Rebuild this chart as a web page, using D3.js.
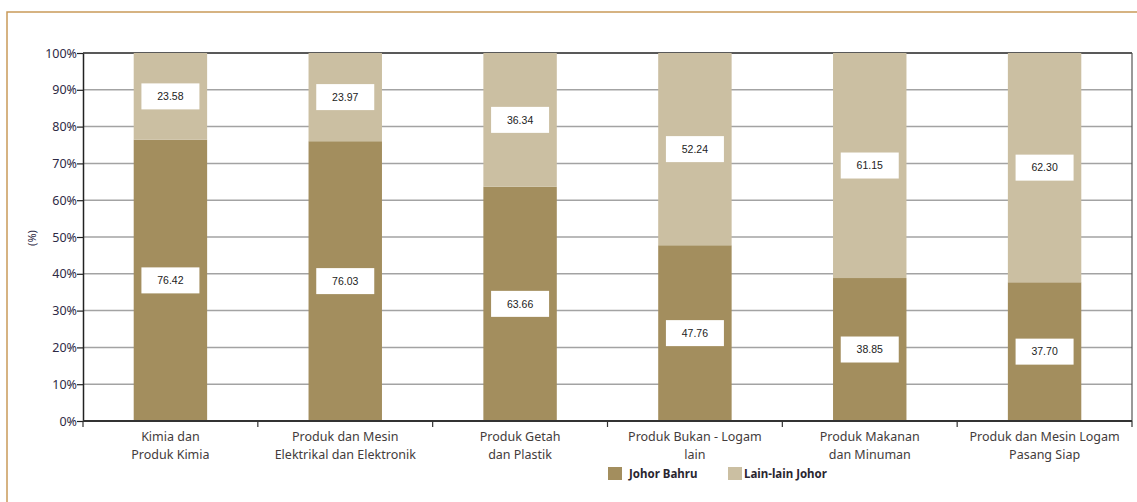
<!DOCTYPE html>
<html><head><meta charset="utf-8">
<script src="https://cdn.jsdelivr.net/npm/d3@7"></script>
<style>body{margin:0;background:#fff;}svg{display:block;}</style>
</head><body>
<svg id="chart" width="1137" height="502"></svg>
<script>
const categories = [
  ["Kimia dan", "Produk Kimia"],
  ["Produk dan Mesin", "Elektrikal dan Elektronik"],
  ["Produk Getah", "dan Plastik"],
  ["Produk Bukan - Logam", "lain"],
  ["Produk Makanan", "dan Minuman"],
  ["Produk dan Mesin Logam", "Pasang Siap"]
];
const johorBahru = [76.42, 76.03, 63.66, 47.76, 38.85, 37.70];
const lainLainJohor = [23.58, 23.97, 36.34, 52.24, 61.15, 62.30];
const seriesNames = ["Johor Bahru", "Lain-lain Johor"];
const yTicks = [0, 10, 20, 30, 40, 50, 60, 70, 80, 90, 100];

const colors = ["#a38e5e", "#cbbfa2"];
const svg = d3.select("#chart");
const m = {left: 83, right: 1132, top: 53, bottom: 421};

// outer frame
svg.append("path").attr("d", `M7,502 V12 H1137`).attr("fill", "none")
  .attr("stroke", "#c99a5a").attr("stroke-width", 1.5);

const x = d3.scaleBand().domain(d3.range(categories.length))
  .range([m.left, m.right]).paddingInner(0.58).paddingOuter(0.29);
const xb = d3.scaleBand().domain(d3.range(categories.length)).range([m.left, m.right]).padding(0);
const y = d3.scaleLinear().domain([0, 100]).range([m.bottom, m.top]);

// gridlines
svg.append("g").selectAll("line").data(yTicks.filter(d => d > 0)).join("line")
  .attr("x1", m.left).attr("x2", m.right)
  .attr("y1", d => y(d)).attr("y2", d => y(d))
  .attr("stroke", d => d === 100 ? "#222" : "#a3a3a3").attr("stroke-width", 1.5);

// right border
svg.append("line").attr("x1", m.right).attr("x2", m.right).attr("y1", m.top).attr("y2", m.bottom)
  .attr("stroke", "#555").attr("stroke-width", 1.2);

// stacked data
const data = categories.map((c, i) => ({i, vals: [johorBahru[i], lainLainJohor[i]]}));
const stack = [];
data.forEach(d => {
  let base = 0;
  d.vals.forEach((v, s) => { stack.push({i: d.i, s, y0: base, y1: base + v, v}); base += v; });
});

svg.append("g").selectAll("rect").data(stack).join("rect")
  .attr("x", d => x(d.i)).attr("width", x.bandwidth())
  .attr("y", d => y(d.y1)).attr("height", d => y(d.y0) - y(d.y1))
  .attr("fill", d => colors[d.s]);

// value label boxes
const lbl = svg.append("g").selectAll("g").data(stack).join("g")
  .attr("transform", d => `translate(${x(d.i) + x.bandwidth() / 2},${y((d.y0 + d.y1) / 2)})`);
lbl.append("rect").attr("x", -29).attr("y", -13).attr("width", 58).attr("height", 26).attr("fill", "#fff");
lbl.append("text").attr("text-anchor", "middle").attr("dy", "0.35em")
  .attr("font-family", "Liberation Sans, Arial, sans-serif").attr("font-size", 10.5)
  .attr("fill", "#222").text(d => d.v.toFixed(2));

// left axis
const yAxis = svg.append("g").attr("transform", `translate(${m.left},0)`)
  .call(d3.axisLeft(y).tickValues(yTicks).tickFormat(d => d + "%").tickSize(6).tickSizeOuter(0));
yAxis.select(".domain").attr("stroke", "#222").attr("stroke-width", 1.5);
yAxis.selectAll(".tick line").attr("stroke", "#222").attr("stroke-width", 1.2);
yAxis.selectAll(".tick text").attr("font-family", "Noto Sans, sans-serif").attr("font-size", 12.5)
  .attr("fill", "#2e2a45").attr("x", -6);

// bottom axis
svg.append("line").attr("x1", m.left).attr("x2", m.right).attr("y1", m.bottom).attr("y2", m.bottom)
  .attr("stroke", "#333").attr("stroke-width", 2);
svg.append("g").selectAll("line").data(d3.range(categories.length + 1)).join("line")
  .attr("x1", d => m.left + d * xb.step()).attr("x2", d => m.left + d * xb.step())
  .attr("y1", m.bottom).attr("y2", m.bottom + 6).attr("stroke", "#333").attr("stroke-width", 1.2);

// category labels
const cl = svg.append("g").selectAll("text").data(categories).join("text")
  .attr("x", (d, i) => xb(i) + xb.bandwidth() / 2).attr("y", 441)
  .attr("text-anchor", "middle").attr("font-family", "Noto Sans, sans-serif")
  .attr("font-size", 12.5).attr("fill", "#433c3c");
cl.selectAll("tspan").data(d => d).join("tspan")
  .attr("x", function() { return this.parentNode.getAttribute("x"); })
  .attr("dy", (d, j) => j === 0 ? 0 : 18).text(d => d);

// y label
svg.append("text").attr("transform", "translate(36,238) rotate(-90)")
  .attr("text-anchor", "middle").attr("font-family", "Noto Sans, sans-serif")
  .attr("font-size", 11).attr("fill", "#2e2a45").text("(%)");

// legend
const legX = [608, 728];
const leg = svg.append("g").selectAll("g").data(seriesNames).join("g")
  .attr("transform", (d, i) => `translate(${legX[i]},467)`);
leg.append("rect").attr("width", 14).attr("height", 13).attr("fill", (d, i) => colors[i]);
leg.append("text").attr("x", (d, i) => i === 0 ? 21 : 16).attr("y", 7).attr("dy", "0.35em")
  .attr("font-family", "Noto Sans, sans-serif").attr("font-weight", "bold")
  .attr("font-size", 11.5).attr("fill", "#2a2630").text(d => d);
</script>
</body></html>
